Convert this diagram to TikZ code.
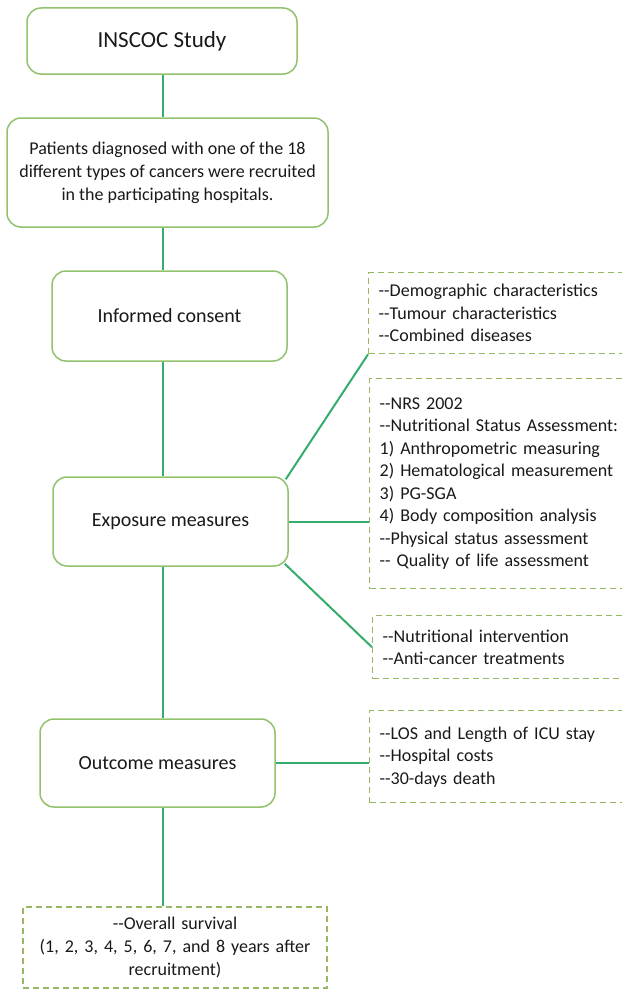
\documentclass[tikz,border=0pt]{standalone}
\usepackage{fontspec}
\setmainfont{Carlito}
\definecolor{boxgreen}{RGB}{146,194,110}
\definecolor{linkgreen}{RGB}{52,172,110}
\definecolor{dashgreen}{RGB}{150,184,100}
\definecolor{txt}{RGB}{25,25,25}
\newcommand{\dd}{-{}-}
\begin{document}
\begin{tikzpicture}[x=1pt,y=-1pt,
  solidbox/.style={draw=boxgreen, line width=1.5pt, rounded corners=14pt, fill=white, align=center, text=txt, inner sep=0pt},
  dashbox/.style={draw=dashgreen, line width=1.4pt, dash pattern=on 6pt off 4pt, align=left, text=txt, inner xsep=10pt, inner ysep=0pt, anchor=north west, font=\fontsize{18}{22.5}\selectfont},
  link/.style={draw=linkgreen, line width=2pt}]
\useasboundingbox (0,0) rectangle (622,990);
\clip (0,0) rectangle (622,990);
\coordinate (spine) at (163,0);

\node[solidbox, minimum width=270pt, minimum height=66pt, font=\fontsize{23}{28}\selectfont] (b1) at (162,41) {INSCOC Study};
\node[solidbox, minimum width=321pt, minimum height=109pt, font=\fontsize{18}{23}\selectfont] (b2) at (167.5,172.5) {Patients diagnosed with one of the 18\\different types of cancers were recruited\\in the participating hospitals.};
\node[solidbox, minimum width=235pt, minimum height=90pt, font=\fontsize{20}{24}\selectfont] (b3) at (169.5,316) {Informed consent};
\node[solidbox, minimum width=235pt, minimum height=89pt, font=\fontsize{20}{24}\selectfont] (b4) at (170.5,521.5) {Exposure measures};
\node[solidbox, minimum width=235pt, minimum height=88pt, font=\fontsize{20}{24}\selectfont] (b5) at (157.5,763) {Outcome measures};
\node[dashbox, anchor=center, align=center, text width=284pt, minimum width=304pt, minimum height=81pt, font=\fontsize{18}{23}\selectfont] (b6) at (175,947.5) {\dd Overall survival\\(1, 2, 3, 4, 5, 6, 7, and 8 years after\\recruitment)};

\node[dashbox, text width=242pt, minimum height=81pt] (dA) at (368,272) {\dd Demographic characteristics\\\dd Tumour characteristics\\\dd Combined diseases};
\node[dashbox, text width=241pt, minimum height=210pt] (dB) at (369,378) {\dd NRS 2002\\\dd Nutritional Status Assessment:\\1) Anthropometric measuring\\2) Hematological measurement\\3) PG-SGA\\4) Body composition analysis\\\dd Physical status assessment\\\dd{} Quality of life assessment};
\node[dashbox, text width=238pt, minimum height=63pt] (dC) at (372,615) {\dd Nutritional intervention\\\dd Anti-cancer treatments};
\node[dashbox, text width=241pt, minimum height=92pt] (dD) at (369,710) {\dd LOS and Length of ICU stay\\\dd Hospital costs\\\dd 30-days death};

\draw[link] (b1.south -| spine) -- (b2.north -| spine);
\draw[link] (b2.south -| spine) -- (b3.north -| spine);
\draw[link] (b3.south -| spine) -- (b4.north -| spine);
\draw[link] (b4.south -| spine) -- (b5.north -| spine);
\draw[link] (b5.south -| spine) -- (b6.north -| spine);
\draw[link] ([shift={(-3,3)}]b4.north east) -- (dA.south west);
\draw[link] (b4.east) -- (b4.east -| dB.west);
\draw[link] ([shift={(-4,-3)}]b4.south east) -- (dC.west);
\draw[link] (b5.east) -- (b5.east -| dD.west);
\end{tikzpicture}
\end{document}
